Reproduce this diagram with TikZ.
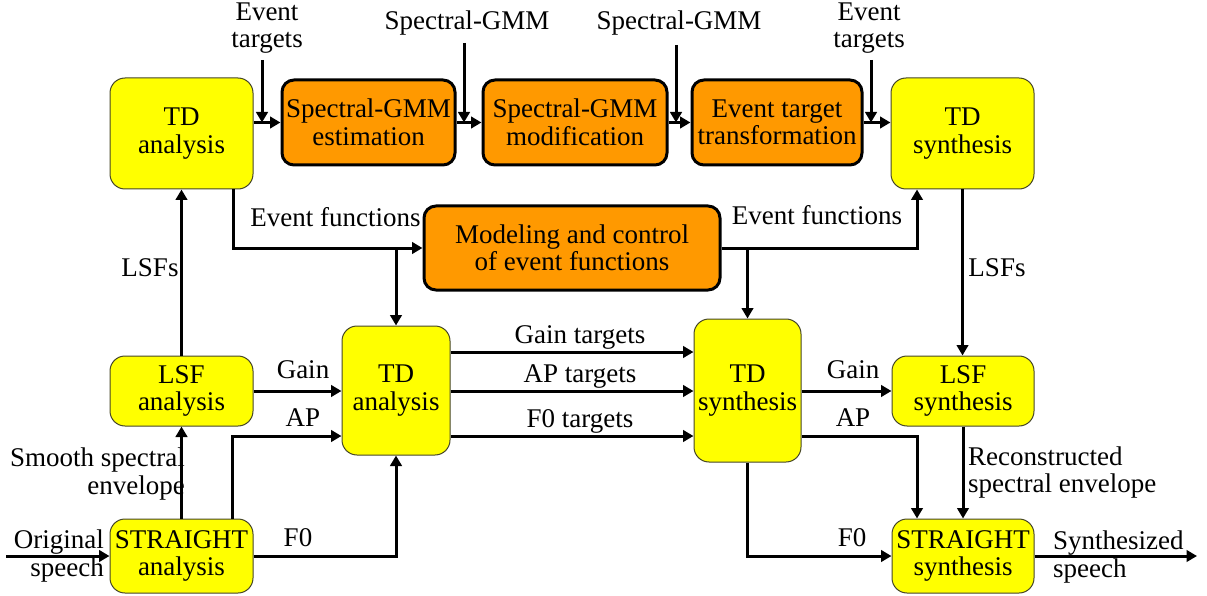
\documentclass[tikz,border=0pt]{standalone}
\usepackage{fontspec}
\setmainfont{Liberation Serif}
\usetikzlibrary{arrows.meta,calc}
\definecolor{boxyellow}{RGB}{255,255,0}
\definecolor{boxorange}{RGB}{255,153,0}
\definecolor{boxedge}{RGB}{70,70,40}
\tikzset{
  txt/.style={font=\fontsize{27}{27.5}\selectfont, inner sep=0pt, align=center},
  ybox/.style={txt, draw=boxedge, line width=1pt, fill=boxyellow, rounded corners=15pt},
  obox/.style={txt, draw=black, line width=3pt, fill=boxorange, rounded corners=12pt},
  arr/.style={line width=3pt, -{Triangle[length=10.5pt,width=11.5pt]}},
  lbl/.style={txt}
}
\begin{document}
\begin{tikzpicture}[x=1pt,y=-1pt]
\useasboundingbox (0,0) rectangle (1207,596);

% processing blocks
\node[ybox, minimum width=143, minimum height=111] (tdA) at (181.5,133.5) {TD\\analysis};
\node[obox, minimum width=173, minimum height=85] (est) at (368.5,122.5) {Spectral-GMM\\estimation};
\node[obox, minimum width=184, minimum height=85] (mod) at (575,122.5) {Spectral-GMM\\modification};
\node[obox, minimum width=170, minimum height=85] (ett) at (777,122.5) {Event target\\transformation};
\node[ybox, minimum width=143, minimum height=111] (tdS) at (962.5,133.5) {TD\\synthesis};
\node[obox, minimum width=296, minimum height=84] (mdl) at (572,248) {Modeling and control\\of event functions};
\node[ybox, minimum width=143, minimum height=70] (lsfA) at (181.5,391) {LSF\\analysis};
\node[ybox, minimum width=143, minimum height=74] (strA) at (181.5,556) {STRAIGHT\\analysis};
\node[ybox, minimum width=108, minimum height=129] (tdA2) at (396,390.5) {TD\\analysis};
\node[ybox, minimum width=107, minimum height=143] (tdS2) at (747.5,390.5) {TD\\synthesis};
\node[ybox, minimum width=142, minimum height=70] (lsfS) at (963,391) {LSF\\synthesis};
\node[ybox, minimum width=142, minimum height=74] (strS) at (963,556) {STRAIGHT\\synthesis};

% free ends and bends
\coordinate (et1) at (262,60);
\coordinate (sg1) at (464,43);
\coordinate (sg2) at (676,45);
\coordinate (et2) at (871,60);
\coordinate (ef1) at (233,248);
\coordinate (ef3) at (917,248);
\coordinate (apL) at (232,436);
\coordinate (apR) at (917,436);
\coordinate (gt) at (570,352);
\coordinate (at) at (570,391);
\coordinate (ft) at (570,436);
\coordinate (osp) at (6,556);
\coordinate (ssp) at (1197,556);

% top chain
\draw[arr] (tdA.east |- est.west) -- (est.west);
\draw[arr] (est.east) -- (mod.west);
\draw[arr] (mod.east) -- (ett.west);
\draw[arr] (ett.east) -- (tdS.west |- ett.east);
\draw[arr] (et1) -- (et1 |- est.west);
\draw[arr] (sg1) -- (sg1 |- est.west);
\draw[arr] (sg2) -- (sg2 |- est.west);
\draw[arr] (et2) -- (et2 |- est.west);

% event functions
\draw[arr] (tdA.south -| ef1) -- (ef1) -- (mdl.west);
\draw[arr] (tdA2.north |- mdl.west) -- (tdA2.north);
\draw[arr] (mdl.east) -- (ef3) -- (ef3 |- tdS.south);
\draw[arr] (tdS2.north |- mdl.east) -- (tdS2.north);

% LSF paths
\draw[arr] (lsfA.north) -- (tdA.south);
\draw[arr] (tdS.south) -- (tdS.south |- lsfS.north);

% analysis side
\draw[arr] (osp) -- (strA.west);
\draw[arr] (strA.north) -- (lsfA.south);
\draw[arr] (lsfA.east) -- (lsfA.east -| tdA2.west);
\draw[arr] (strA.north -| apL) -- (apL) -- (apL -| tdA2.west);
\draw[arr] (strA.east) -- (strA.east -| tdA2.south) -- (tdA2.south);

% targets
\draw[arr] (tdA2.east |- gt) -- (tdS2.west |- gt);
\draw[arr] (tdA2.east |- at) -- (tdS2.west |- at);
\draw[arr] (tdA2.east |- ft) -- (tdS2.west |- ft);

% synthesis side
\draw[arr] (tdS2.east |- lsfS.west) -- (lsfS.west);
\draw[arr] (tdS2.east |- apR) -- (apR) -- (apR |- strS.north);
\draw[arr] (lsfS.south) -- (strS.north);
\draw[arr] (tdS2.south) -- (tdS2.south |- strS.west) -- (strS.west);
\draw[arr] (strS.east) -- (ssp);

% labels
\node[lbl] (l1) at (267,28) {Event\\targets};
\node[lbl, anchor=base] (l2) at (467,30) {Spectral-GMM};
\node[lbl, anchor=base] (l3) at (679,30) {Spectral-GMM};
\node[lbl] (l4) at (869,28) {Event\\targets};
\node[lbl, anchor=base] (l5) at (335.5,226) {Event functions};
\node[lbl, anchor=base] (l6) at (817,225) {Event functions};
\node[lbl, anchor=base] (l7) at (150,276) {LSFs};
\node[lbl, anchor=base] (l8) at (997,276) {LSFs};
\node[lbl, anchor=base] (l9) at (303,378) {Gain};
\node[lbl, anchor=base] (l10) at (303,426) {AP};
\node[lbl, anchor=base] (l11) at (298,546) {F0};
\node[lbl, anchor=base] (l12) at (580,343) {Gain targets};
\node[lbl, anchor=base] (l13) at (580,382) {AP targets};
\node[lbl, anchor=base] (l14) at (580,427) {F0 targets};
\node[lbl, anchor=base] (l15) at (853,378) {Gain};
\node[lbl, anchor=base] (l16) at (853,426) {AP};
\node[lbl, anchor=base] (l17) at (852,546) {F0};
\node[lbl, align=right, anchor=east] (l18) at (185,474) {Smooth spectral\\envelope};
\node[lbl, align=right, anchor=east] (l19) at (104,556) {Original\\speech};
\node[lbl, align=left, anchor=west] (l20) at (968,472.7) {Reconstructed\\spectral envelope};
\node[lbl, align=left, anchor=west] (l21) at (1053,557) {Synthesized\\speech};
\end{tikzpicture}
\end{document}
